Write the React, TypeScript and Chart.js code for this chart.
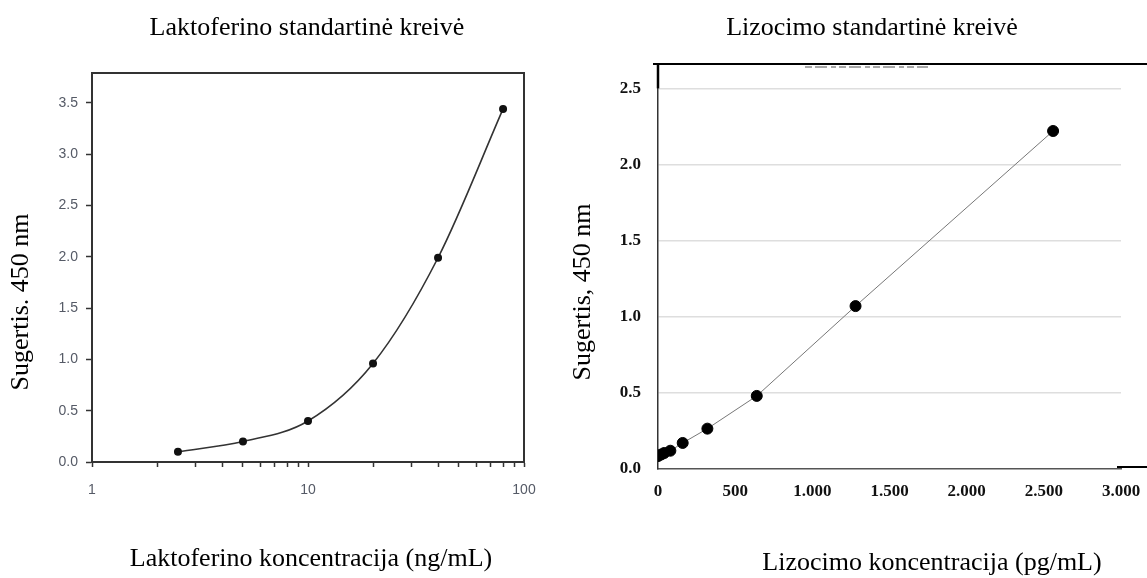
import React, { useEffect, useRef } from 'react';
import { Chart, registerables } from 'chart.js';

Chart.register(...registerables);

// ---- Laktoferinas (left) ----
const lfTitle = 'Laktoferino standartinė kreivė';
const lfXTitle = 'Laktoferino koncentracija (ng/mL)';
const lfYTitle = 'Sugertis. 450 nm';
const lfConc = [2.5, 5, 10, 20, 40, 80];
const lfAbs = [0.10, 0.20, 0.40, 0.96, 1.99, 3.44];
const lfXTicks = [1, 2, 3, 4, 5, 6, 7, 8, 9, 10, 20, 30, 40, 50, 60, 70, 80, 90, 100];
const lfXLabelled = [1, 10, 100];

// ---- Lizocimas (right) ----
const lzTitle = 'Lizocimo standartinė kreivė';
const lzXTitle = 'Lizocimo koncentracija (pg/mL)';
const lzYTitle = 'Sugertis, 450 nm';
const lzConc = [0, 20, 40, 80, 160, 320, 640, 1280, 2560];
const lzAbs = [0.085, 0.095, 0.105, 0.12, 0.171, 0.265, 0.48, 1.07, 2.22];
const lzXTickLabels = ['0', '500', '1.000', '1.500', '2.000', '2.500', '3.000'];

const SERIF = '"Liberation Serif", "Times New Roman", serif';

const textPlugin = {
  id: 'texts',
  afterDraw(chart: any, _args: any, opts: any) {
    const ctx = chart.ctx;
    (opts.items || []).forEach((it: any) => {
      ctx.save();
      ctx.font = it.font;
      ctx.fillStyle = it.color || '#000';
      ctx.textAlign = 'center';
      ctx.textBaseline = it.baseline || 'alphabetic';
      ctx.translate(it.x, it.y);
      if (it.rotate) ctx.rotate(it.rotate);
      ctx.fillText(it.text, 0, 0);
      ctx.restore();
    });
  },
};

const framePlugin = {
  id: 'frame',
  afterDatasetsDraw(chart: any, _args: any, opts: any) {
    const { ctx, chartArea } = chart;
    ctx.save();
    ctx.strokeStyle = '#333';
    if (opts.mode === 'box') {
      ctx.lineWidth = 2;
      ctx.strokeRect(chartArea.left, chartArea.top, chartArea.right - chartArea.left, chartArea.bottom - chartArea.top);
    } else if (opts.mode === 'cropped') {
      const yTop = chart.scales.y.getPixelForValue(2.5);
      ctx.strokeStyle = '#000';
      ctx.lineWidth = 2;
      ctx.beginPath();
      ctx.moveTo(chartArea.left - 5, chartArea.top);
      ctx.lineTo(chart.width, chartArea.top);
      ctx.stroke();
      ctx.lineWidth = 2.5;
      ctx.beginPath();
      ctx.moveTo(chartArea.left, chartArea.top);
      ctx.lineTo(chartArea.left, yTop);
      ctx.stroke();
      ctx.lineWidth = 2;
      ctx.beginPath();
      ctx.moveTo(chartArea.right - 4, chartArea.bottom - 2);
      ctx.lineTo(chart.width, chartArea.bottom - 2);
      ctx.stroke();
      // remnant of a cut-off caption just under the top edge
      ctx.strokeStyle = '#8a8a8a';
      ctx.lineWidth = 1.5;
      ctx.setLineDash([7, 3, 12, 4, 5, 3]);
      ctx.beginPath();
      ctx.moveTo(chartArea.left + 147, chartArea.top + 3);
      ctx.lineTo(chartArea.left + 270, chartArea.top + 3);
      ctx.stroke();
    }
    ctx.restore();
  },
};

function LactoChart() {
  const ref = useRef<HTMLCanvasElement>(null);
  useEffect(() => {
    const chart = new Chart(ref.current as HTMLCanvasElement, {
      type: 'line',
      data: {
        datasets: [
          {
            data: lfConc.map((x, i) => ({ x, y: lfAbs[i] })),
            borderColor: '#333',
            borderWidth: 1.6,
            cubicInterpolationMode: 'monotone',
            pointRadius: 3.2,
            pointBackgroundColor: '#111',
            pointBorderColor: '#111',
          },
        ],
      },
      options: {
        animation: false,
        responsive: false,
        devicePixelRatio: 1,
        layout: { padding: { top: 73, right: 46, left: 0, bottom: 0 } },
        plugins: {
          legend: { display: false },
          tooltip: { enabled: false },
          texts: {
            items: [
              { text: lfTitle, x: 307, y: 35, font: `26px ${SERIF}` },
              { text: lfXTitle, x: 311, y: 566, font: `26px ${SERIF}` },
              { text: lfYTitle, x: 21, y: 302, font: `26px ${SERIF}`, rotate: -Math.PI / 2, baseline: 'middle' },
            ],
          },
          frame: { mode: 'box' },
        } as any,
        scales: {
          x: {
            type: 'logarithmic',
            min: 1,
            max: 100,
            afterBuildTicks: (s: any) => {
              s.ticks = lfXTicks.map((v) => ({ value: v }));
            },
            afterFit: (s: any) => {
              s.height = 116;
              s.paddingLeft = 0;
              s.paddingRight = 0;
            },
            ticks: {
              autoSkip: false,
              maxRotation: 0,
              padding: 15,
              color: '#555a66',
              font: { family: 'Liberation Sans', size: 14 },
              callback: (v: any) => (lfXLabelled.includes(Number(v)) ? String(v) : ''),
            },
            grid: { drawOnChartArea: false, drawTicks: true, tickLength: 5, tickColor: '#333', tickWidth: 1.5 },
            border: { display: true, color: '#333', width: 2 },
          },
          y: {
            min: 0,
            max: 3.79,
            afterFit: (s: any) => {
              s.width = 92;
            },
            ticks: {
              stepSize: 0.5,
              includeBounds: false,
              padding: 8,
              color: '#555a66',
              font: { family: 'Liberation Sans', size: 14 },
              callback: (v: any) => Number(v).toFixed(1),
            },
            grid: { drawOnChartArea: false, drawTicks: true, tickLength: 6, tickColor: '#333', tickWidth: 1.5 },
            border: { display: true, color: '#333', width: 2 },
          },
        },
      },
      plugins: [textPlugin, framePlugin],
    } as any);
    return () => chart.destroy();
  }, []);
  return <canvas ref={ref} width={570} height={578} style={{ position: 'absolute', left: 0, top: 0 }} />;
}

function LysoChart() {
  const ref = useRef<HTMLCanvasElement>(null);
  useEffect(() => {
    const chart = new Chart(ref.current as HTMLCanvasElement, {
      type: 'line',
      data: {
        datasets: [
          {
            data: lzConc.map((x, i) => ({ x, y: lzAbs[i] })),
            borderColor: '#777',
            borderWidth: 1,
            tension: 0,
            pointRadius: 5.5,
            pointBackgroundColor: '#000',
            pointBorderColor: '#000',
          },
        ],
      },
      options: {
        animation: false,
        responsive: false,
        devicePixelRatio: 1,
        layout: { padding: { top: 64, right: 26, left: 0, bottom: 0 } },
        plugins: {
          legend: { display: false },
          tooltip: { enabled: false },
          texts: {
            items: [
              { text: lzTitle, x: 302, y: 35, font: `26px ${SERIF}` },
              { text: lzXTitle, x: 362, y: 570, font: `26px ${SERIF}` },
              { text: lzYTitle, x: 13, y: 292, font: `26px ${SERIF}`, rotate: -Math.PI / 2, baseline: 'middle' },
            ],
          },
          frame: { mode: 'cropped' },
        } as any,
        scales: {
          x: {
            type: 'linear',
            min: 0,
            max: 3000,
            afterFit: (s: any) => {
              s.height = 109;
              s.paddingLeft = 0;
              s.paddingRight = 0;
            },
            ticks: {
              stepSize: 500,
              autoSkip: false,
              maxRotation: 0,
              padding: 12,
              color: '#111',
              font: { family: 'Liberation Serif', size: 17, weight: 'bold' },
              callback: (_v: any, i: number) => lzXTickLabels[i],
            },
            grid: { drawOnChartArea: false, drawTicks: false },
            border: { display: true, color: '#555', width: 1.5 },
          },
          y: {
            min: 0,
            max: 2.66,
            afterFit: (s: any) => {
              s.width = 88;
            },
            ticks: {
              stepSize: 0.5,
              includeBounds: false,
              padding: 17,
              color: '#111',
              font: { family: 'Liberation Serif', size: 17, weight: 'bold' },
              callback: (v: any) => Number(v).toFixed(1),
            },
            grid: {
              drawTicks: false,
              color: (c: any) => (c.tick && c.tick.value === 0 ? 'rgba(0,0,0,0)' : '#dedede'),
              lineWidth: 1.5,
            },
            border: { display: true, color: '#333', width: 1.5 },
          },
        },
      },
      plugins: [textPlugin, framePlugin],
    } as any);
    return () => chart.destroy();
  }, []);
  return <canvas ref={ref} width={577} height={578} style={{ position: 'absolute', left: 570, top: 0 }} />;
}

export default function App() {
  return (
    <div style={{ position: 'fixed', left: 0, top: 0, width: 1147, height: 578, background: '#fff', overflow: 'hidden' }}>
      <LactoChart />
      <LysoChart />
    </div>
  );
}
